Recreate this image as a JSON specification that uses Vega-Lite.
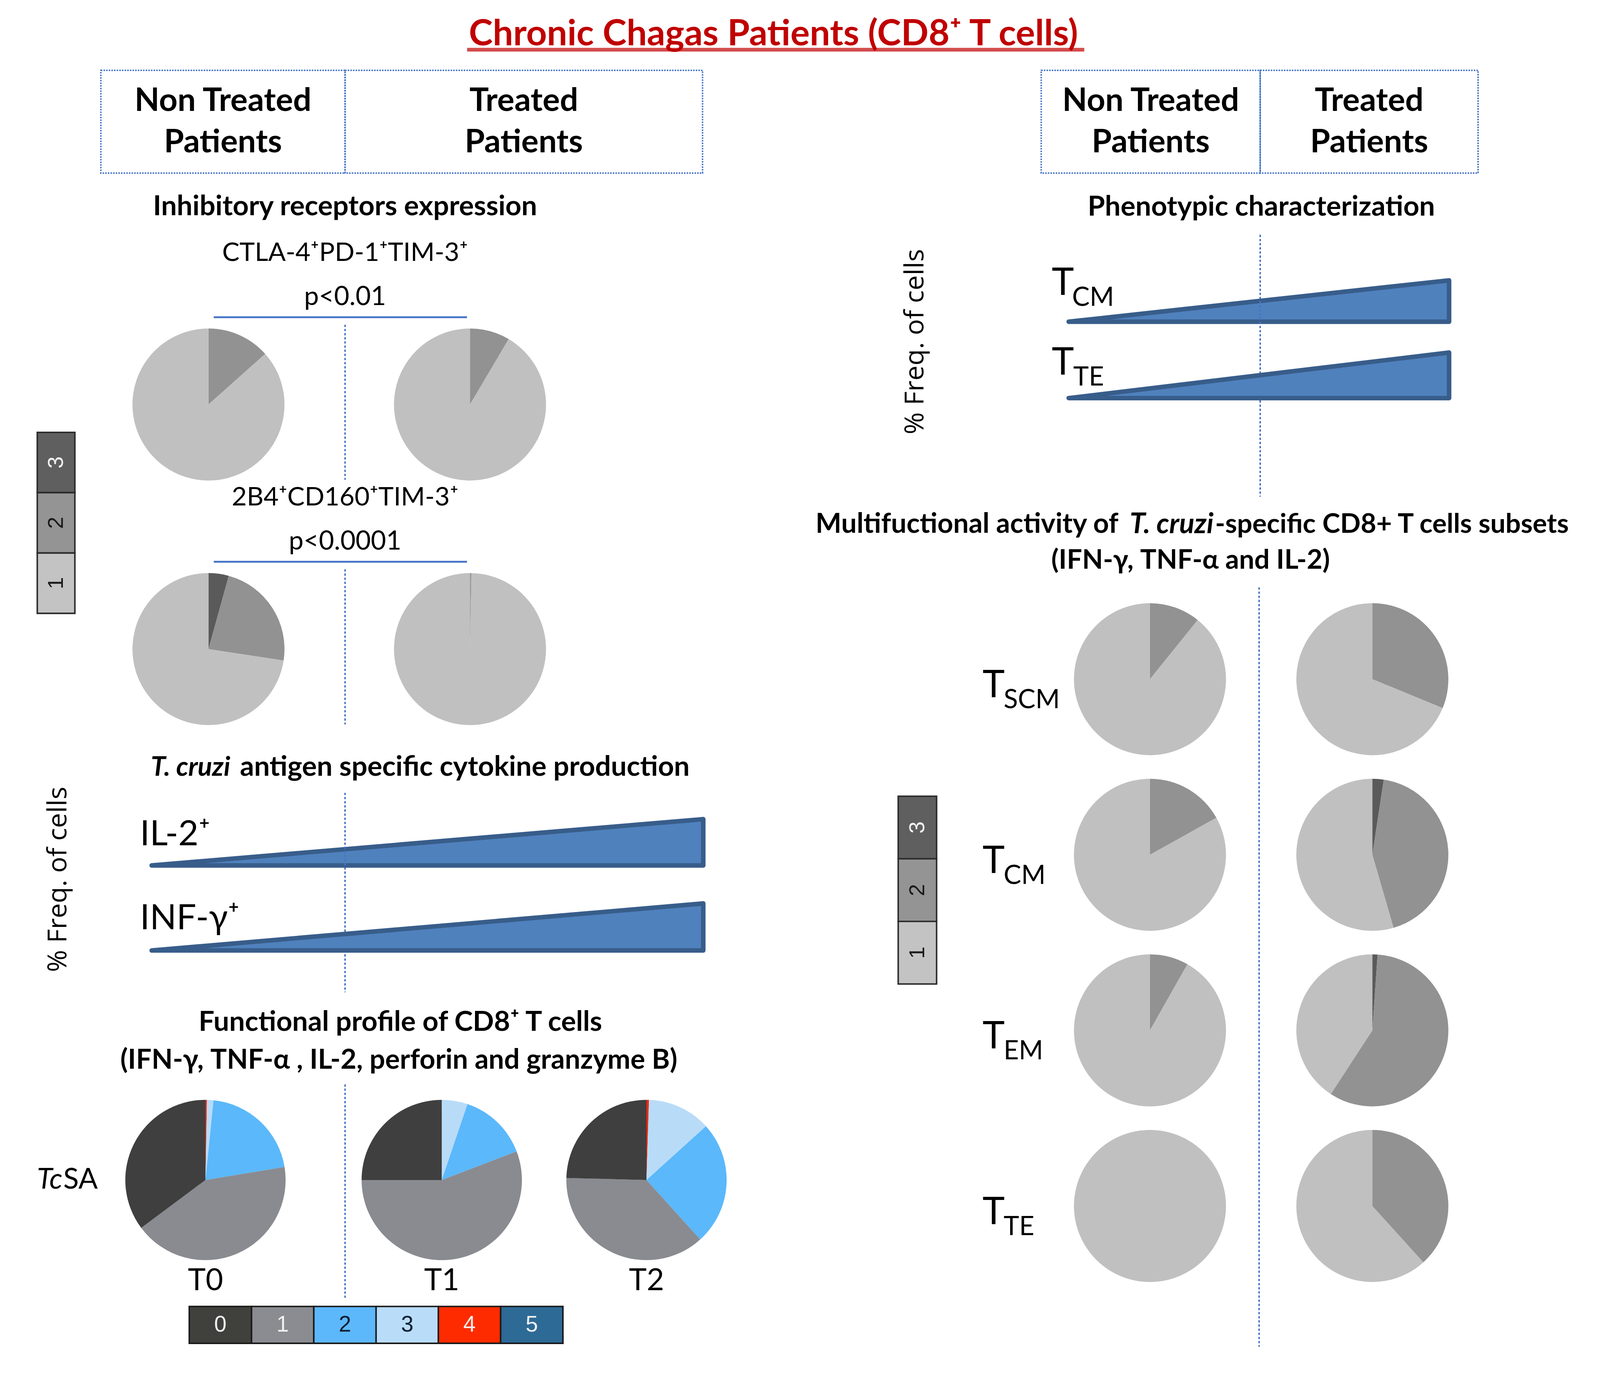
{
  "$schema": "https://vega.github.io/schema/vega-lite/v6.json",
  "width": 4096,
  "height": 3448,
  "padding": 0,
  "autosize": {"type": "none"},
  "background": "white",
  "config": {
    "view": {"stroke": null},
    "font": "Lato",
    "legend": {"disable": true}
  },
  "datasets": {
    "inhib_pies": [
      {"marker": "CTLA-4⁺PD-1⁺TIM-3⁺", "group": "Non Treated Patients", "n": "3", "pct": 0},
      {"marker": "CTLA-4⁺PD-1⁺TIM-3⁺", "group": "Non Treated Patients", "n": "2", "pct": 13.4},
      {"marker": "CTLA-4⁺PD-1⁺TIM-3⁺", "group": "Non Treated Patients", "n": "1", "pct": 86.6},
      {"marker": "CTLA-4⁺PD-1⁺TIM-3⁺", "group": "Treated Patients", "n": "3", "pct": 0},
      {"marker": "CTLA-4⁺PD-1⁺TIM-3⁺", "group": "Treated Patients", "n": "2", "pct": 8.5},
      {"marker": "CTLA-4⁺PD-1⁺TIM-3⁺", "group": "Treated Patients", "n": "1", "pct": 91.5},
      {"marker": "2B4⁺CD160⁺TIM-3⁺", "group": "Non Treated Patients", "n": "3", "pct": 4.3},
      {"marker": "2B4⁺CD160⁺TIM-3⁺", "group": "Non Treated Patients", "n": "2", "pct": 23.1},
      {"marker": "2B4⁺CD160⁺TIM-3⁺", "group": "Non Treated Patients", "n": "1", "pct": 72.6},
      {"marker": "2B4⁺CD160⁺TIM-3⁺", "group": "Treated Patients", "n": "3", "pct": 0},
      {"marker": "2B4⁺CD160⁺TIM-3⁺", "group": "Treated Patients", "n": "2", "pct": 0.3},
      {"marker": "2B4⁺CD160⁺TIM-3⁺", "group": "Treated Patients", "n": "1", "pct": 99.7}
    ],
    "inhib_labels": [
      {"marker": "CTLA-4⁺PD-1⁺TIM-3⁺", "p": "p<0.01"},
      {"marker": "2B4⁺CD160⁺TIM-3⁺", "p": "p<0.0001"}
    ],
    "func_nt": [
      {"time": "T0", "antigen": "TcSA", "n": "5", "pct": 0},
      {"time": "T0", "antigen": "TcSA", "n": "4", "pct": 0.3},
      {"time": "T0", "antigen": "TcSA", "n": "3", "pct": 1.3},
      {"time": "T0", "antigen": "TcSA", "n": "2", "pct": 20.8},
      {"time": "T0", "antigen": "TcSA", "n": "1", "pct": 42.4},
      {"time": "T0", "antigen": "TcSA", "n": "0", "pct": 35.2}
    ],
    "func_t": [
      {"time": "T1", "antigen": "TcSA", "n": "5", "pct": 0},
      {"time": "T1", "antigen": "TcSA", "n": "4", "pct": 0},
      {"time": "T1", "antigen": "TcSA", "n": "3", "pct": 5.2},
      {"time": "T1", "antigen": "TcSA", "n": "2", "pct": 14.0},
      {"time": "T1", "antigen": "TcSA", "n": "1", "pct": 55.8},
      {"time": "T1", "antigen": "TcSA", "n": "0", "pct": 25.0},
      {"time": "T2", "antigen": "TcSA", "n": "5", "pct": 0},
      {"time": "T2", "antigen": "TcSA", "n": "4", "pct": 0.5},
      {"time": "T2", "antigen": "TcSA", "n": "3", "pct": 12.8},
      {"time": "T2", "antigen": "TcSA", "n": "2", "pct": 25.0},
      {"time": "T2", "antigen": "TcSA", "n": "1", "pct": 37.1},
      {"time": "T2", "antigen": "TcSA", "n": "0", "pct": 24.6}
    ],
    "multi_pies": [
      {"subset": "SCM", "group": "Non Treated Patients", "n": "3", "pct": 0},
      {"subset": "SCM", "group": "Non Treated Patients", "n": "2", "pct": 10.8},
      {"subset": "SCM", "group": "Non Treated Patients", "n": "1", "pct": 89.2},
      {"subset": "SCM", "group": "Treated Patients", "n": "3", "pct": 0},
      {"subset": "SCM", "group": "Treated Patients", "n": "2", "pct": 31.2},
      {"subset": "SCM", "group": "Treated Patients", "n": "1", "pct": 68.8},
      {"subset": "CM", "group": "Non Treated Patients", "n": "3", "pct": 0},
      {"subset": "CM", "group": "Non Treated Patients", "n": "2", "pct": 16.9},
      {"subset": "CM", "group": "Non Treated Patients", "n": "1", "pct": 83.1},
      {"subset": "CM", "group": "Treated Patients", "n": "3", "pct": 2.4},
      {"subset": "CM", "group": "Treated Patients", "n": "2", "pct": 43.1},
      {"subset": "CM", "group": "Treated Patients", "n": "1", "pct": 54.5},
      {"subset": "EM", "group": "Non Treated Patients", "n": "3", "pct": 0},
      {"subset": "EM", "group": "Non Treated Patients", "n": "2", "pct": 8.2},
      {"subset": "EM", "group": "Non Treated Patients", "n": "1", "pct": 91.8},
      {"subset": "EM", "group": "Treated Patients", "n": "3", "pct": 1.1},
      {"subset": "EM", "group": "Treated Patients", "n": "2", "pct": 58.1},
      {"subset": "EM", "group": "Treated Patients", "n": "1", "pct": 40.8},
      {"subset": "TE", "group": "Non Treated Patients", "n": "3", "pct": 0},
      {"subset": "TE", "group": "Non Treated Patients", "n": "2", "pct": 0},
      {"subset": "TE", "group": "Non Treated Patients", "n": "1", "pct": 100},
      {"subset": "TE", "group": "Treated Patients", "n": "3", "pct": 0},
      {"subset": "TE", "group": "Treated Patients", "n": "2", "pct": 38.3},
      {"subset": "TE", "group": "Treated Patients", "n": "1", "pct": 61.7}
    ],
    "multi_labels": [
      {"subset": "SCM"}, {"subset": "CM"}, {"subset": "EM"}, {"subset": "TE"}
    ]
  },
  "resolve": {"scale": {"x": "independent", "y": "independent", "color": "independent", "theta": "independent"}},
  "layer": [
    {
      "data": {"values": [{"title": "Chronic Chagas Patients (CD8⁺ T cells)"}]},
      "encoding": {
        "x": {"field": "title", "type": "nominal", "axis": null, "scale": {"type": "point", "range": [1980, 1980], "padding": 0}},
        "y": {"field": "title", "type": "nominal", "axis": null, "scale": {"type": "point", "range": [115.6, 115.6], "padding": 0}}
      },
      "layer": [
        {"mark": {"type": "text", "fontWeight": "bold", "fontSize": 92.5, "color": "#C00000", "align": "center", "baseline": "alphabetic"}, "encoding": {"text": {"field": "title"}}},
        {"mark": {"type": "tick", "orient": "horizontal", "size": 1580, "thickness": 9.6, "color": "#C00000", "xOffset": 5.8, "yOffset": 11.6}}
      ]
    },
    {
      "data": {"values": [{"group": "Non Treated Patients", "label": "Non Treated\nPatients"}]},
      "encoding": {
        "x": {"field": "group", "type": "nominal", "axis": null, "scale": {"type": "band", "range": [258.2, 883.4], "paddingInner": 0, "paddingOuter": 0}},
        "y": {"field": "group", "type": "nominal", "axis": null, "scale": {"type": "band", "range": [180.1, 443.1], "paddingInner": 0, "paddingOuter": 0}}
      },
      "layer": [
        {"mark": {"type": "rect", "filled": false, "color": "#4472C4", "strokeWidth": 3.85, "strokeDash": [3.85, 2.9]}},
        {"mark": {"type": "text", "fontWeight": "bold", "fontSize": 82.8, "lineHeight": 106, "lineBreak": "\n", "align": "center", "baseline": "middle", "color": "black", "yOffset": -53}, "encoding": {"text": {"field": "label"}}}
      ]
    },
    {
      "data": {"values": [{"group": "Treated Patients", "label": "Treated\nPatients"}]},
      "encoding": {
        "x": {"field": "group", "type": "nominal", "axis": null, "scale": {"type": "band", "range": [883.4, 1798.5], "paddingInner": 0, "paddingOuter": 0}},
        "y": {"field": "group", "type": "nominal", "axis": null, "scale": {"type": "band", "range": [180.1, 443.1], "paddingInner": 0, "paddingOuter": 0}}
      },
      "layer": [
        {"mark": {"type": "rect", "filled": false, "color": "#4472C4", "strokeWidth": 3.85, "strokeDash": [3.85, 2.9]}},
        {"mark": {"type": "text", "fontWeight": "bold", "fontSize": 82.8, "lineHeight": 106, "lineBreak": "\n", "align": "center", "baseline": "middle", "color": "black", "yOffset": -53}, "encoding": {"text": {"field": "label"}}}
      ]
    },
    {
      "data": {"values": [{"group": "Non Treated Patients", "label": "Non Treated\nPatients"}]},
      "encoding": {
        "x": {"field": "group", "type": "nominal", "axis": null, "scale": {"type": "band", "range": [2665.5, 3226.1], "paddingInner": 0, "paddingOuter": 0}},
        "y": {"field": "group", "type": "nominal", "axis": null, "scale": {"type": "band", "range": [180.1, 443.1], "paddingInner": 0, "paddingOuter": 0}}
      },
      "layer": [
        {"mark": {"type": "rect", "filled": false, "color": "#4472C4", "strokeWidth": 3.85, "strokeDash": [3.85, 2.9]}},
        {"mark": {"type": "text", "fontWeight": "bold", "fontSize": 82.8, "lineHeight": 106, "lineBreak": "\n", "align": "center", "baseline": "middle", "color": "black", "yOffset": -53}, "encoding": {"text": {"field": "label"}}}
      ]
    },
    {
      "data": {"values": [{"group": "Treated Patients", "label": "Treated\nPatients"}]},
      "encoding": {
        "x": {"field": "group", "type": "nominal", "axis": null, "scale": {"type": "band", "range": [3226.1, 3783.9], "paddingInner": 0, "paddingOuter": 0}},
        "y": {"field": "group", "type": "nominal", "axis": null, "scale": {"type": "band", "range": [180.1, 443.1], "paddingInner": 0, "paddingOuter": 0}}
      },
      "layer": [
        {"mark": {"type": "rect", "filled": false, "color": "#4472C4", "strokeWidth": 3.85, "strokeDash": [3.85, 2.9]}},
        {"mark": {"type": "text", "fontWeight": "bold", "fontSize": 82.8, "lineHeight": 106, "lineBreak": "\n", "align": "center", "baseline": "middle", "color": "black", "yOffset": -53}, "encoding": {"text": {"field": "label"}}}
      ]
    },
    {
      "data": {"name": "inhib_pies"},
      "encoding": {
        "x": {"field": "group", "type": "nominal", "axis": null, "scale": {"type": "point", "domain": ["Non Treated Patients", "Treated Patients"], "range": [533.7, 1203.2], "padding": 0}},
        "y": {"field": "marker", "type": "nominal", "axis": null, "scale": {"type": "point", "domain": ["CTLA-4⁺PD-1⁺TIM-3⁺", "2B4⁺CD160⁺TIM-3⁺"], "range": [1035.6, 1661.7], "padding": 0}}
      },
      "layer": [
        {
          "transform": [{"stack": "pct", "groupby": ["marker", "group"], "sort": [{"field": "n", "order": "descending"}], "as": ["p0", "p1"]}],
          "mark": {"type": "arc", "radius": 194.6},
          "encoding": {
            "theta": {"field": "p0", "type": "quantitative", "scale": {"domain": [0, 100], "range": [0, 6.283185307179586]}},
            "theta2": {"field": "p1"},
            "color": {"field": "n", "type": "nominal", "legend": null, "scale": {"domain": ["1", "2", "3"], "range": ["#C0C0C0", "#929292", "#5A5A5A"]}}
          }
        },
        {
          "data": {"values": [{"title": "Inhibitory receptors expression"}]},
          "mark": {"type": "text", "fontWeight": "bold", "fontSize": 71.3, "align": "center", "baseline": "middle", "xOffset": 349.7, "yOffset": -505.7},
          "encoding": {
            "x": {"datum": "Non Treated Patients", "type": "nominal", "axis": null},
            "y": {"datum": "CTLA-4⁺PD-1⁺TIM-3⁺", "type": "nominal", "axis": null},
            "text": {"field": "title"}
          }
        },
        {
          "data": {"name": "inhib_labels"},
          "mark": {"type": "text", "fontSize": 66.5, "align": "center", "baseline": "middle", "xOffset": 349.7, "yOffset": -387.3},
          "encoding": {"x": {"datum": "Non Treated Patients", "type": "nominal", "axis": null}, "text": {"field": "marker"}}
        },
        {
          "data": {"name": "inhib_labels"},
          "mark": {"type": "text", "fontSize": 67.4, "align": "center", "baseline": "middle", "xOffset": 349.7, "yOffset": -274.5},
          "encoding": {"x": {"datum": "Non Treated Patients", "type": "nominal", "axis": null}, "text": {"field": "p"}}
        },
        {
          "data": {"name": "inhib_labels"},
          "mark": {"type": "rule", "color": "#4472C4", "strokeWidth": 4.8, "xOffset": 13.5, "x2Offset": -7.7, "yOffset": -223.5},
          "encoding": {"x": {"datum": "Non Treated Patients", "type": "nominal", "axis": null}, "x2": {"datum": "Treated Patients"}}
        },
        {
          "data": {"name": "inhib_labels"},
          "mark": {"type": "rule", "color": "#4472C4", "strokeWidth": 3.85, "strokeDash": [5.8, 4.8], "xOffset": 349.7, "yOffset": -204.2, "y2Offset": 192.7},
          "encoding": {"x": {"datum": "Non Treated Patients", "type": "nominal", "axis": null}, "y2": {"field": "marker"}}
        }
      ]
    },
    {
      "data": {"values": [{"legend": "Inhibitory receptors", "n": "3"}, {"legend": "Inhibitory receptors", "n": "2"}, {"legend": "Inhibitory receptors", "n": "1"}]},
      "encoding": {
        "x": {"field": "legend", "type": "nominal", "axis": null, "scale": {"type": "band", "range": [95.4, 191.7], "paddingInner": 0, "paddingOuter": 0}},
        "y": {"field": "n", "type": "nominal", "axis": null, "scale": {"type": "band", "domain": ["3", "2", "1"], "range": [1106.8, 1570.2], "paddingInner": 0, "paddingOuter": 0}}
      },
      "layer": [
        {"mark": {"type": "rect", "stroke": "#2B2B2B", "strokeWidth": 3.85}, "encoding": {"color": {"field": "n", "type": "nominal", "legend": null, "scale": {"domain": ["1", "2", "3"], "range": ["#C3C3C3", "#949494", "#5F5F5F"]}}}},
        {"mark": {"type": "text", "font": "Liberation Sans", "fontSize": 56, "angle": 270, "align": "center", "baseline": "middle"}, "encoding": {"text": {"field": "n"}, "color": {"condition": {"test": "datum.n === '3'", "value": "#F2F2F2"}, "value": "#1A1A1A"}}}
      ]
    },
    {
      "data": {"values": [{"cytokine": "IL-2⁺", "group": "Non Treated Patients", "freq": 0}, {"cytokine": "IL-2⁺", "group": "Treated Patients", "freq": 1}]},
      "encoding": {
        "x": {"field": "group", "type": "nominal", "axis": null, "scale": {"type": "point", "domain": ["Non Treated Patients", "Treated Patients"], "range": [388.2, 1800.4], "padding": 0}},
        "y": {"field": "freq", "type": "quantitative", "axis": null, "stack": null, "scale": {"domain": [0, 1], "range": [2215.6, 2097.1], "nice": false, "zero": true}}
      },
      "layer": [
        {"mark": {"type": "area", "fill": "#4F81BD", "stroke": "#385D8A", "strokeWidth": 11.6, "strokeJoin": "round"}},
        {"transform": [{"filter": {"field": "group", "equal": "Non Treated Patients"}}], "mark": {"type": "text", "fontSize": 89.6, "align": "left", "baseline": "alphabetic", "xOffset": -29.9, "yOffset": -52}, "encoding": {"text": {"field": "cytokine"}}},
        {"transform": [{"filter": {"field": "group", "equal": "Non Treated Patients"}}], "mark": {"type": "text", "font": "Open Sans", "fontSize": 68.5, "angle": 270, "align": "center", "baseline": "middle", "xOffset": -238.9, "yOffset": 35.6}, "encoding": {"text": {"value": "% Freq. of cells"}}},
        {"transform": [{"filter": {"field": "group", "equal": "Non Treated Patients"}}], "mark": {"type": "text", "fontWeight": "bold", "fontStyle": "italic", "fontSize": 68.4, "align": "right", "baseline": "middle", "xOffset": 201.3, "yOffset": -250.5}, "encoding": {"text": {"value": "T. cruzi"}}},
        {"transform": [{"filter": {"field": "group", "equal": "Non Treated Patients"}}], "mark": {"type": "text", "fontWeight": "bold", "fontSize": 71.3, "align": "left", "baseline": "middle", "xOffset": 226, "yOffset": -250.5}, "encoding": {"text": {"value": "antigen specific cytokine production"}}},
        {"transform": [{"filter": {"field": "group", "equal": "Non Treated Patients"}}], "mark": {"type": "rule", "color": "#4472C4", "strokeWidth": 3.85, "strokeDash": [5.8, 4.8], "xOffset": 495.1, "yOffset": -185.9, "y2Offset": 324.6}, "encoding": {"y2": {"field": "freq"}}}
      ]
    },
    {
      "data": {"values": [{"cytokine": "INF-γ⁺", "group": "Non Treated Patients", "freq": 0}, {"cytokine": "INF-γ⁺", "group": "Treated Patients", "freq": 1}]},
      "encoding": {
        "x": {"field": "group", "type": "nominal", "axis": null, "scale": {"type": "point", "domain": ["Non Treated Patients", "Treated Patients"], "range": [388.2, 1800.4], "padding": 0}},
        "y": {"field": "freq", "type": "quantitative", "axis": null, "stack": null, "scale": {"domain": [0, 1], "range": [2433.3, 2312.9], "nice": false, "zero": true}}
      },
      "layer": [
        {"mark": {"type": "area", "fill": "#4F81BD", "stroke": "#385D8A", "strokeWidth": 11.6, "strokeJoin": "round"}},
        {"transform": [{"filter": {"field": "group", "equal": "Non Treated Patients"}}], "mark": {"type": "text", "fontSize": 89.6, "align": "left", "baseline": "alphabetic", "xOffset": -29.9, "yOffset": -53.9}, "encoding": {"text": {"field": "cytokine"}}}
      ]
    },
    {
      "data": {"name": "func_nt"},
      "encoding": {
        "x": {"field": "time", "type": "nominal", "axis": null, "scale": {"type": "point", "domain": ["T0"], "range": [526, 526], "padding": 0}},
        "y": {"field": "antigen", "type": "nominal", "axis": null, "scale": {"type": "point", "domain": ["TcSA"], "range": [3020.9, 3020.9], "padding": 0}}
      },
      "layer": [
        {
          "transform": [{"stack": "pct", "groupby": ["time", "antigen"], "sort": [{"field": "n", "order": "descending"}], "as": ["p0", "p1"]}],
          "mark": {"type": "arc", "radius": 205.2},
          "encoding": {
            "theta": {"field": "p0", "type": "quantitative", "scale": {"domain": [0, 100], "range": [0, 6.283185307179586]}},
            "theta2": {"field": "p1"},
            "color": {"field": "n", "type": "nominal", "legend": null, "scale": {"domain": ["0", "1", "2", "3", "4", "5"], "range": ["#3F3F3F", "#898B90", "#5BB8FA", "#B8DBF8", "#F02A10", "#2E6A94"]}}
          }
        },
        {"transform": [{"filter": {"field": "n", "equal": "0"}}], "mark": {"type": "text", "fontSize": 77.1, "align": "center", "baseline": "alphabetic", "yOffset": 282.2}, "encoding": {"text": {"field": "time"}}},
        {
          "data": {"values": [{"part": "Tc"}]},
          "mark": {"type": "text", "fontStyle": "italic", "fontSize": 73.2, "align": "right", "baseline": "middle", "xOffset": -366.1},
          "encoding": {"x": {"datum": "T0", "type": "nominal", "axis": null}, "y": {"datum": "TcSA", "type": "nominal", "axis": null}, "text": {"field": "part"}}
        },
        {
          "data": {"values": [{"part": "SA"}]},
          "mark": {"type": "text", "fontSize": 73.2, "align": "left", "baseline": "middle", "xOffset": -364.1},
          "encoding": {"x": {"datum": "T0", "type": "nominal", "axis": null}, "y": {"datum": "TcSA", "type": "nominal", "axis": null}, "text": {"field": "part"}}
        },
        {
          "data": {"values": [{"title": "Functional profile of CD8⁺ T cells"}]},
          "mark": {"type": "text", "fontWeight": "bold", "fontSize": 71.3, "align": "center", "baseline": "middle", "xOffset": 499, "yOffset": -402.7},
          "encoding": {"x": {"datum": "T0", "type": "nominal", "axis": null}, "y": {"datum": "TcSA", "type": "nominal", "axis": null}, "text": {"field": "title"}}
        },
        {
          "data": {"values": [{"title": "(IFN-γ, TNF-α , IL-2, perforin and granzyme B)"}]},
          "mark": {"type": "text", "fontWeight": "bold", "fontSize": 70.3, "align": "center", "baseline": "middle", "xOffset": 495.1, "yOffset": -306.3},
          "encoding": {"x": {"datum": "T0", "type": "nominal", "axis": null}, "y": {"datum": "TcSA", "type": "nominal", "axis": null}, "text": {"field": "title"}}
        },
        {
          "data": {"values": [{"divider": "Non Treated | Treated"}]},
          "mark": {"type": "rule", "color": "#4472C4", "strokeWidth": 3.85, "strokeDash": [5.8, 4.8], "xOffset": 357.4, "yOffset": -244.7, "y2Offset": 305.4},
          "encoding": {"x": {"datum": "T0", "type": "nominal", "axis": null}, "y": {"datum": "TcSA", "type": "nominal", "axis": null}, "y2": {"datum": "TcSA"}}
        }
      ]
    },
    {
      "data": {"name": "func_t"},
      "encoding": {
        "x": {"field": "time", "type": "nominal", "axis": null, "scale": {"type": "point", "domain": ["T1", "T2"], "range": [1130.9, 1655], "padding": 0}},
        "y": {"field": "antigen", "type": "nominal", "axis": null, "scale": {"type": "point", "domain": ["TcSA"], "range": [3020.9, 3020.9], "padding": 0}}
      },
      "layer": [
        {
          "transform": [{"stack": "pct", "groupby": ["time", "antigen"], "sort": [{"field": "n", "order": "descending"}], "as": ["p0", "p1"]}],
          "mark": {"type": "arc", "radius": 205.2},
          "encoding": {
            "theta": {"field": "p0", "type": "quantitative", "scale": {"domain": [0, 100], "range": [0, 6.283185307179586]}},
            "theta2": {"field": "p1"},
            "color": {"field": "n", "type": "nominal", "legend": null, "scale": {"domain": ["0", "1", "2", "3", "4", "5"], "range": ["#3F3F3F", "#898B90", "#5BB8FA", "#B8DBF8", "#F02A10", "#2E6A94"]}}
          }
        },
        {"transform": [{"filter": {"field": "n", "equal": "0"}}], "mark": {"type": "text", "fontSize": 77.1, "align": "center", "baseline": "alphabetic", "yOffset": 282.2}, "encoding": {"text": {"field": "time"}}}
      ]
    },
    {
      "data": {"values": [
        {"legend": "Functional profile", "n": "0"}, {"legend": "Functional profile", "n": "1"}, {"legend": "Functional profile", "n": "2"},
        {"legend": "Functional profile", "n": "3"}, {"legend": "Functional profile", "n": "4"}, {"legend": "Functional profile", "n": "5"}
      ]},
      "encoding": {
        "x": {"field": "n", "type": "nominal", "axis": null, "scale": {"type": "band", "domain": ["0", "1", "2", "3", "4", "5"], "range": [484.5, 1441.1], "paddingInner": 0, "paddingOuter": 0}},
        "y": {"field": "legend", "type": "nominal", "axis": null, "scale": {"type": "band", "range": [3344.6, 3439], "paddingInner": 0, "paddingOuter": 0}}
      },
      "layer": [
        {"mark": {"type": "rect", "stroke": "#1A1A1A", "strokeWidth": 3.85}, "encoding": {"color": {"field": "n", "type": "nominal", "legend": null, "scale": {"domain": ["0", "1", "2", "3", "4", "5"], "range": ["#40413D", "#8A8C91", "#5CB8FB", "#B9DDF9", "#FF2B00", "#2D6A96"]}}}},
        {"mark": {"type": "text", "font": "Liberation Sans", "fontSize": 57, "align": "center", "baseline": "middle"}, "encoding": {"text": {"field": "n"}, "color": {"condition": {"test": "datum.n === '2' || datum.n === '3'", "value": "#0F1E33"}, "value": "#F0F0F0"}}}
      ]
    },
    {
      "data": {"values": [{"subset": "CM", "group": "Non Treated Patients", "freq": 0}, {"subset": "CM", "group": "Treated Patients", "freq": 1}]},
      "encoding": {
        "x": {"field": "group", "type": "nominal", "axis": null, "scale": {"type": "point", "domain": ["Non Treated Patients", "Treated Patients"], "range": [2735.8, 3709.7], "padding": 0}},
        "y": {"field": "freq", "type": "quantitative", "axis": null, "stack": null, "scale": {"domain": [0, 1], "range": [823.6, 717.7], "nice": false, "zero": true}}
      },
      "layer": [
        {"mark": {"type": "area", "fill": "#4F81BD", "stroke": "#385D8A", "strokeWidth": 11.6, "strokeJoin": "round"}},
        {"transform": [{"filter": {"field": "group", "equal": "Non Treated Patients"}}], "mark": {"type": "text", "fontSize": 96.3, "align": "left", "baseline": "alphabetic", "xOffset": -43.3, "yOffset": -68.4}, "encoding": {"text": {"value": "T"}}},
        {"transform": [{"filter": {"field": "group", "equal": "Non Treated Patients"}}], "mark": {"type": "text", "fontSize": 67.4, "align": "left", "baseline": "alphabetic", "xOffset": 8.7, "yOffset": -40.5}, "encoding": {"text": {"field": "subset"}}},
        {"transform": [{"filter": {"field": "group", "equal": "Non Treated Patients"}}], "mark": {"type": "text", "fontWeight": "bold", "fontSize": 71.3, "align": "center", "baseline": "middle", "xOffset": 493.2, "yOffset": -292.8}, "encoding": {"text": {"value": "Phenotypic characterization"}}},
        {"transform": [{"filter": {"field": "group", "equal": "Non Treated Patients"}}], "mark": {"type": "text", "font": "Open Sans", "fontSize": 68.5, "angle": 270, "align": "center", "baseline": "middle", "xOffset": -393, "yOffset": 51.1}, "encoding": {"text": {"value": "% Freq. of cells"}}},
        {"transform": [{"filter": {"field": "group", "equal": "Non Treated Patients"}}], "mark": {"type": "rule", "color": "#4472C4", "strokeWidth": 3.85, "strokeDash": [5.8, 4.8], "xOffset": 490.3, "yOffset": -222.5, "y2Offset": 447.9}, "encoding": {"y2": {"field": "freq"}}}
      ]
    },
    {
      "data": {"values": [{"subset": "TE", "group": "Non Treated Patients", "freq": 0}, {"subset": "TE", "group": "Treated Patients", "freq": 1}]},
      "encoding": {
        "x": {"field": "group", "type": "nominal", "axis": null, "scale": {"type": "point", "domain": ["Non Treated Patients", "Treated Patients"], "range": [2735.8, 3709.7], "padding": 0}},
        "y": {"field": "freq", "type": "quantitative", "axis": null, "stack": null, "scale": {"domain": [0, 1], "range": [1019.2, 902.6], "nice": false, "zero": true}}
      },
      "layer": [
        {"mark": {"type": "area", "fill": "#4F81BD", "stroke": "#385D8A", "strokeWidth": 11.6, "strokeJoin": "round"}},
        {"transform": [{"filter": {"field": "group", "equal": "Non Treated Patients"}}], "mark": {"type": "text", "fontSize": 96.3, "align": "left", "baseline": "alphabetic", "xOffset": -43.3, "yOffset": -60.7}, "encoding": {"text": {"value": "T"}}},
        {"transform": [{"filter": {"field": "group", "equal": "Non Treated Patients"}}], "mark": {"type": "text", "fontSize": 67.4, "align": "left", "baseline": "alphabetic", "xOffset": 11.6, "yOffset": -31.8}, "encoding": {"text": {"field": "subset"}}}
      ]
    },
    {
      "data": {"name": "multi_pies"},
      "encoding": {
        "x": {"field": "group", "type": "nominal", "axis": null, "scale": {"type": "point", "domain": ["Non Treated Patients", "Treated Patients"], "range": [2943.9, 3513.2], "padding": 0}},
        "y": {"field": "subset", "type": "nominal", "axis": null, "scale": {"type": "point", "domain": ["SCM", "CM", "EM", "TE"], "range": [1738.8, 3087.4], "padding": 0}}
      },
      "layer": [
        {
          "transform": [{"stack": "pct", "groupby": ["subset", "group"], "sort": [{"field": "n", "order": "descending"}], "as": ["p0", "p1"]}],
          "mark": {"type": "arc", "radius": 194.6},
          "encoding": {
            "theta": {"field": "p0", "type": "quantitative", "scale": {"domain": [0, 100], "range": [0, 6.283185307179586]}},
            "theta2": {"field": "p1"},
            "color": {"field": "n", "type": "nominal", "legend": null, "scale": {"domain": ["1", "2", "3"], "range": ["#C0C0C0", "#929292", "#5A5A5A"]}}
          }
        },
        {
          "data": {"name": "multi_labels"},
          "mark": {"type": "text", "fontSize": 96.3, "align": "left", "baseline": "alphabetic", "xOffset": -428.7, "yOffset": 46.2},
          "encoding": {"x": {"datum": "Non Treated Patients", "type": "nominal", "axis": null}, "text": {"value": "T"}}
        },
        {
          "data": {"name": "multi_labels"},
          "mark": {"type": "text", "fontSize": 67.4, "align": "left", "baseline": "alphabetic", "xOffset": -374.7, "yOffset": 74.2},
          "encoding": {"x": {"datum": "Non Treated Patients", "type": "nominal", "axis": null}, "text": {"field": "subset"}}
        },
        {
          "data": {"values": [{"part": "Multifuctional activity of"}]},
          "mark": {"type": "text", "fontWeight": "bold", "fontSize": 70.3, "align": "right", "baseline": "middle", "xOffset": -80.8, "yOffset": -395.9},
          "encoding": {"x": {"datum": "Non Treated Patients", "type": "nominal", "axis": null}, "y": {"datum": "SCM", "type": "nominal", "axis": null}, "text": {"field": "part"}}
        },
        {
          "data": {"values": [{"part": "T. cruzi"}]},
          "mark": {"type": "text", "fontWeight": "bold", "fontStyle": "italic", "fontSize": 72.2, "align": "left", "baseline": "middle", "xOffset": -52, "yOffset": -395.9},
          "encoding": {"x": {"datum": "Non Treated Patients", "type": "nominal", "axis": null}, "y": {"datum": "SCM", "type": "nominal", "axis": null}, "text": {"field": "part"}}
        },
        {
          "data": {"values": [{"part": "-specific CD8+ T cells subsets"}]},
          "mark": {"type": "text", "fontWeight": "bold", "fontSize": 69, "align": "right", "baseline": "middle", "xOffset": 1072.2, "yOffset": -395.9},
          "encoding": {"x": {"datum": "Non Treated Patients", "type": "nominal", "axis": null}, "y": {"datum": "SCM", "type": "nominal", "axis": null}, "text": {"field": "part"}}
        },
        {
          "data": {"values": [{"part": "(IFN-γ, TNF-α and IL-2)"}]},
          "mark": {"type": "text", "fontWeight": "bold", "fontSize": 69.4, "align": "center", "baseline": "middle", "xOffset": 104, "yOffset": -303.4},
          "encoding": {"x": {"datum": "Non Treated Patients", "type": "nominal", "axis": null}, "y": {"datum": "SCM", "type": "nominal", "axis": null}, "text": {"field": "part"}}
        },
        {
          "data": {"values": [{"divider": "Non Treated | Treated"}]},
          "mark": {"type": "rule", "color": "#4472C4", "strokeWidth": 3.85, "strokeDash": [5.8, 4.8], "xOffset": 279.4, "yOffset": -235, "y2Offset": 360.3},
          "encoding": {"x": {"datum": "Non Treated Patients", "type": "nominal", "axis": null}, "y": {"datum": "SCM", "type": "nominal", "axis": null}, "y2": {"datum": "TE"}}
        }
      ]
    },
    {
      "data": {"values": [{"legend": "Multifunctional activity", "n": "3"}, {"legend": "Multifunctional activity", "n": "2"}, {"legend": "Multifunctional activity", "n": "1"}]},
      "encoding": {
        "x": {"field": "legend", "type": "nominal", "axis": null, "scale": {"type": "band", "range": [2299.4, 2397.7], "paddingInner": 0, "paddingOuter": 0}},
        "y": {"field": "n", "type": "nominal", "axis": null, "scale": {"type": "band", "domain": ["3", "2", "1"], "range": [2038.4, 2519.1], "paddingInner": 0, "paddingOuter": 0}}
      },
      "layer": [
        {"mark": {"type": "rect", "stroke": "#2B2B2B", "strokeWidth": 3.85}, "encoding": {"color": {"field": "n", "type": "nominal", "legend": null, "scale": {"domain": ["1", "2", "3"], "range": ["#C3C3C3", "#949494", "#5F5F5F"]}}}},
        {"mark": {"type": "text", "font": "Liberation Sans", "fontSize": 56, "angle": 270, "align": "center", "baseline": "middle"}, "encoding": {"text": {"field": "n"}, "color": {"condition": {"test": "datum.n === '3'", "value": "#F2F2F2"}, "value": "#1A1A1A"}}}
      ]
    }
  ]
}
